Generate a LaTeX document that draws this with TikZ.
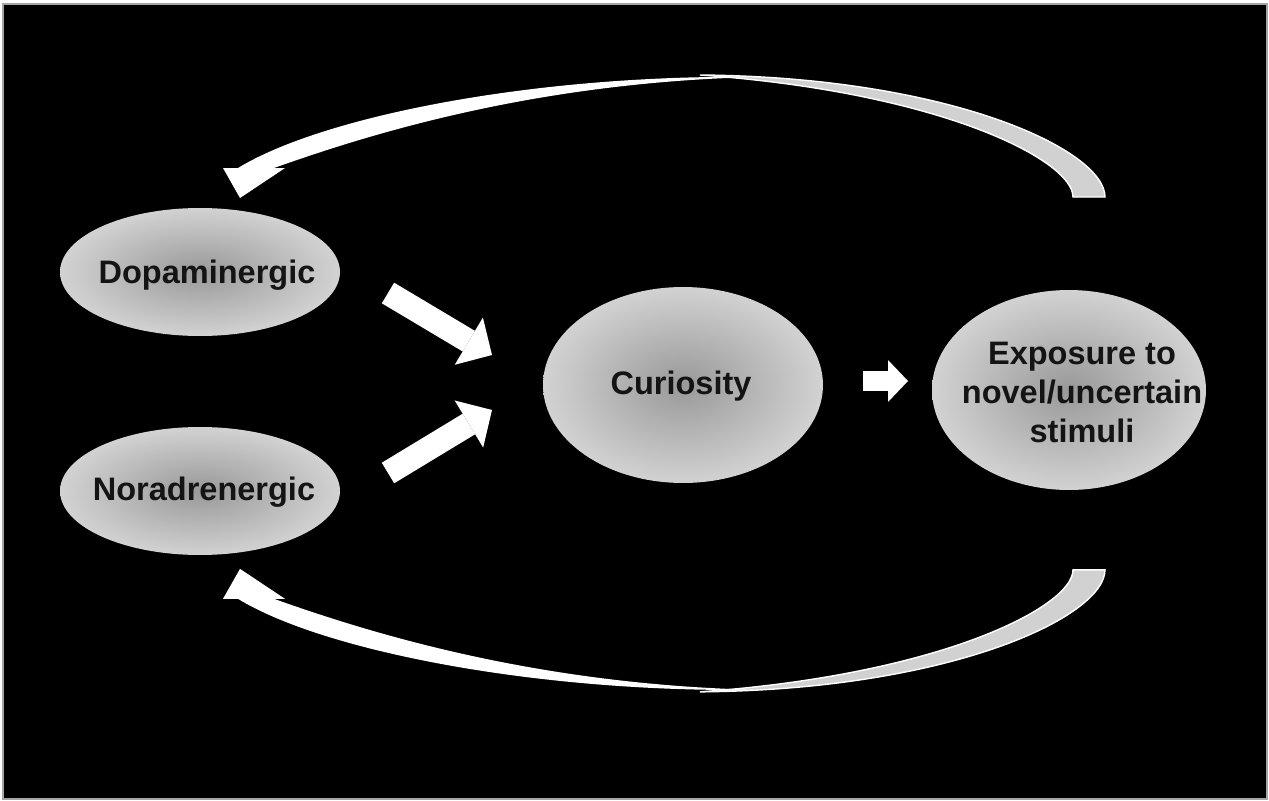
\documentclass[tikz,border=0pt]{standalone}
\usepackage{fontspec}
\setmainfont{Liberation Sans}
\usetikzlibrary{shapes.geometric, arrows.meta}

\colorlet{bubblein}{black!40}
\colorlet{bubbleout}{black!15}
\pgfdeclareradialshading{bubbleshade}{\pgfpoint{0bp}{0bp}}{color(0bp)=(bubblein); color(28bp)=(bubbleout); color(50bp)=(bubbleout)}

\newcommand{\loopribbon}{%
  \draw[backpart] (1073,197) .. controls (1073,160) and (940,92) .. (700,75)
    .. controls (950,77) and (1105,150) .. (1105,197) -- cycle;
  \fill[frontpart] (223,168) -- (238,168) .. controls (325,115) and (540,74) .. (758,77)
    .. controls (540,82) and (375,132) .. (274,168) -- (285,168) -- (240,198) -- cycle;
}

\begin{document}
\begin{tikzpicture}[
      x=0.02cm, y=-0.02cm,
      bubble/.style={ellipse, inner sep=0pt, shading=bubbleshade},
      bubbletext/.style={inner sep=0pt, align=center, text=black!92, font=\fontsize{18.5}{22.2}\selectfont\bfseries},
      fatarrow/.style={white, line width=0.48cm, -{Triangle[length=0.54cm, width=1.1cm, line width=0pt]}},
      slimarrow/.style={white, line width=0.4cm, -{Triangle[length=0.4cm, width=0.84cm, line width=0pt]}},
      backpart/.style={fill=black!18, draw=white, line width=0.8pt},
      frontpart/.style={fill=white}
    ]
      \useasboundingbox (0,0) rectangle (1269,801);
      \fill[white] (0,0) rectangle (1269,801);
      \draw[fill=black, draw=black!35, line width=0.7pt] (3,4) rectangle (1267,799);

      \node[bubble, minimum width=5.6cm, minimum height=2.56cm] (dopa) at (200,272) {};
      \node[bubble, minimum width=5.6cm, minimum height=2.56cm] (nora) at (200,491) {};
      \node[bubble, minimum width=5.6cm, minimum height=3.92cm] (curio) at (683,385) {};
      \node[bubble, minimum width=5.48cm, minimum height=4cm] (expo) at (1069,390) {};

      \node[bubbletext] (dopa-t) at (207,275) {Dopaminergic};
      \node[bubbletext] (nora-t) at (204,492) {Noradrenergic};
      \node[bubbletext] (curio-t) at (681,386) {Curiosity};
      \node[bubbletext] (expo-t) at (1082,392) {Exposure to\\novel/uncertain\\stimuli};

      \coordinate (dopa-out) at (388,293);
      \coordinate (nora-out) at (388,473);
      \coordinate (curio-in1) at (492,355);
      \coordinate (curio-in2) at (492,410);
      \coordinate (curio-out) at (863,381);
      \coordinate (expo-in) at (908,381);

      \draw[fatarrow] (dopa-out) -- (curio-in1);
      \draw[fatarrow] (nora-out) -- (curio-in2);
      \draw[slimarrow] (curio-out) -- (expo-in);

      \loopribbon
      \begin{scope}[yshift=-15.34cm, yscale=-1]
        \loopribbon
      \end{scope}
    \end{tikzpicture}
\end{document}
